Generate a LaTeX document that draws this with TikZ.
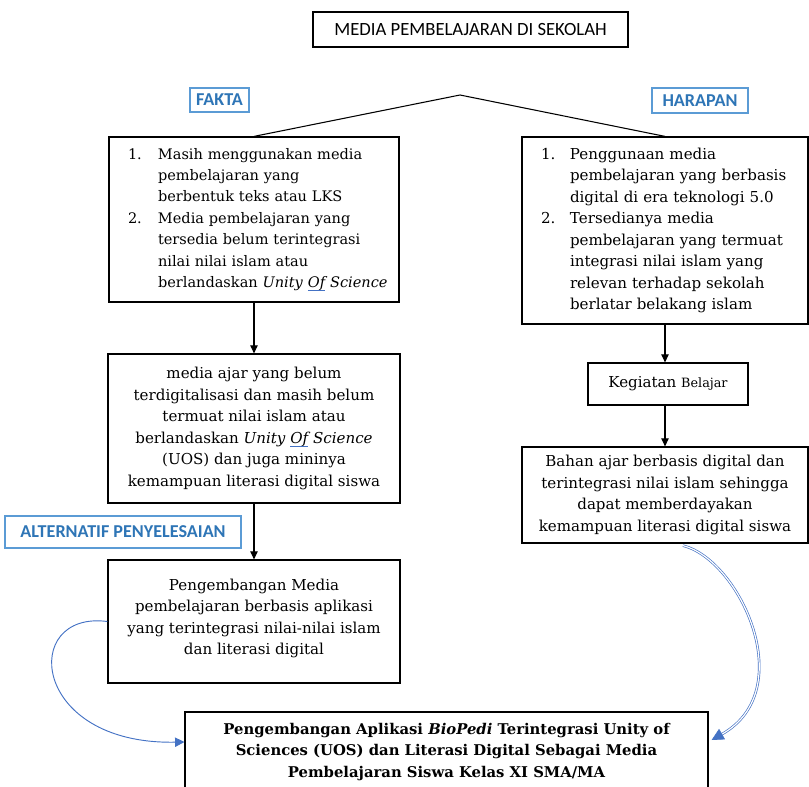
\documentclass[tikz,border=0pt]{standalone}
\usepackage{fontspec}
\setmainfont{DejaVu Serif}
\newfontfamily\calib{Carlito}
\usetikzlibrary{arrows.meta,calc}
\definecolor{lblue}{HTML}{5B9BD5}
\definecolor{tblue}{HTML}{2E75B6}
\definecolor{cblue}{HTML}{4472C4}
\newcommand{\wordOf}{\sbox0{\itshape Of}\rlap{\color{cblue}\rule[-2.4pt]{\wd0}{0.6pt}}\usebox0}
\begin{document}
\begin{tikzpicture}[x=0.75pt,y=-0.75pt,
  box/.style={draw=black, line width=0.9pt, inner sep=0pt, align=center,
    font=\fontsize{11.3}{16.1}\selectfont},
  listbox/.style={box, align=left, inner xsep=14.25pt},
  lab/.style={draw=lblue, line width=0.9pt, text=tblue, inner sep=0pt,
    font=\calib\bfseries\fontsize{13.6}{15}\selectfont},
  arr/.style={line width=0.8pt, -{Triangle[width=5.5pt,length=6pt]}},
  tent/.style={line width=0.8pt},
  bluearr/.style={cblue, line width=0.7pt, -{Triangle[width=7pt,length=7pt]}},
  dblarr/.style={cblue, double=white, double distance=0.9pt, line width=0.5pt,
    -{Triangle[width=9pt,length=9pt]}}
]
\useasboundingbox (0,0) rectangle (809,787);

% title
\node[draw=black, line width=1.4pt, minimum width=236.25pt, minimum height=26.25pt,
  inner sep=0pt, font=\calib\fontsize{14}{16}\selectfont] (title) at (470.5,29.5)
  {MEDIA PEMBELAJARAN DI SEKOLAH};

% labels
\node[lab, minimum width=44.25pt, minimum height=18pt] (fakta) at (219.5,100) {FAKTA};
\node[lab, minimum width=72pt, minimum height=18.75pt] (harapan) at (700,100.5) {HARAPAN};
\node[lab, minimum width=177pt, minimum height=24pt] (alt) at (123,532) {ALTERNATIF PENYELESAIAN};

% left column
\node[listbox, text width=189pt, minimum height=123.75pt,
  font=\fontsize{10.9}{16.1}\selectfont] (f1) at (254,219.5)
{\mbox{\makebox[22.5pt][l]{1.}Masih menggunakan media}\\
\mbox{\hspace*{22.5pt}pembelajaran yang}\\
\mbox{\hspace*{22.5pt}berbentuk teks atau LKS}\\
\mbox{\makebox[22.5pt][l]{2.}Media pembelajaran yang}\\
\mbox{\hspace*{22.5pt}tersedia belum terintegrasi}\\
\mbox{\hspace*{22.5pt}nilai nilai islam atau}\\
\mbox{\hspace*{22.5pt}berlandaskan \textit{Unity} \wordOf\ \textit{Science}}};

\node[box, minimum width=219pt, minimum height=111.75pt] (f2) at (254,428.5)
{media ajar yang belum\\
terdigitalisasi dan masih belum\\
termuat nilai islam atau\\
berlandaskan \textit{Unity} \wordOf\ \textit{Science}\\
(UOS) dan juga mininya\\
kemampuan literasi digital siswa};

\node[box, minimum width=219pt, minimum height=92.25pt] (f3) at (254,621.5)
{Pengembangan Media\\
pembelajaran berbasis aplikasi\\
yang terintegrasi nilai-nilai islam\\
dan literasi digital\\[-9pt]\mbox{}};

% right column
\node[listbox, text width=186pt, minimum height=140.25pt] (h1) at (665,230.5)
{\mbox{\makebox[21.75pt][l]{1.}Penggunaan media}\\
\mbox{\hspace*{21.75pt}pembelajaran yang berbasis}\\
\mbox{\hspace*{21.75pt}digital di era teknologi 5.0}\\
\mbox{\makebox[21.75pt][l]{2.}Tersedianya media}\\
\mbox{\hspace*{21.75pt}pembelajaran yang termuat}\\
\mbox{\hspace*{21.75pt}integrasi nilai islam yang}\\
\mbox{\hspace*{21.75pt}relevan terhadap sekolah}\\
\mbox{\hspace*{21.75pt}berlatar belakang islam}};

\node[box, minimum width=120pt, minimum height=31.5pt] (keg) at (668,384)
{Kegiatan {\fontsize{9.6}{11}\selectfont Belajar}};

\node[box, minimum width=214.5pt, minimum height=72pt] (h2) at (665,495)
{Bahan ajar berbasis digital dan\\
terintegrasi nilai islam sehingga\\
dapat memberdayakan\\
kemampuan literasi digital siswa};

% bottom
\node[box, minimum width=392.25pt, minimum height=60pt,
  font=\bfseries\fontsize{11.1}{16}\selectfont] (bottom) at (446.5,752)
{Pengembangan Aplikasi \textit{BioPedi} Terintegrasi Unity of\\
Sciences (UOS) dan Literasi Digital Sebagai Media\\
Pembelajaran Siswa Kelas XI SMA/MA};

% tent
\coordinate (apex) at (460,95);
\draw[tent] (apex) -- (f1.north);
\draw[tent] (apex) -- (h1.north);

% arrows
\draw[arr] (f1.south) -- (f2.north);
\draw[arr] (f2.south) -- (f3.north);
\draw[arr] (h1.south) -- (h1.south |- keg.north);
\draw[arr] (keg.south -| h2.north) -- (h2.north);

% blue curves
\draw[bluearr] (f3.west) .. controls (20,610) and (30,745) .. ($(bottom.west)+(0,-10)$);
\draw[dblarr] ($(h2.south)+(18,2)$) .. controls (740,560) and (800,690) .. ($(bottom.east)+(3,-12)$);
\end{tikzpicture}
\end{document}
